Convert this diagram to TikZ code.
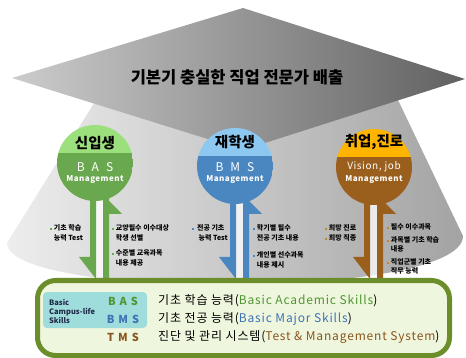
\documentclass[tikz,border=0pt]{standalone}
\usepackage{fontspec}
\setmainfont{Noto Sans CJK KR}
\definecolor{glt}{HTML}{9CE07E}
\definecolor{gdk}{HTML}{6AA84F}
\definecolor{blt}{HTML}{8CC8F0}
\definecolor{bdk}{HTML}{4A86C0}
\definecolor{olt}{HTML}{FFB400}
\definecolor{odk}{HTML}{9A5F1C}
\definecolor{obul}{HTML}{C8841E}
\definecolor{boxline}{HTML}{6B8E2A}
\definecolor{boxfill}{HTML}{EFF6DE}
\definecolor{cyanbox}{HTML}{9FDCDC}
\definecolor{navy}{HTML}{1F2A48}
\definecolor{bascol}{HTML}{4E9632}
\definecolor{bmscol}{HTML}{3D72B4}
\definecolor{tmscol}{HTML}{8A5520}
\newcommand{\sq}[1]{\textcolor{#1}{\rule{2.2pt}{2.2pt}}\hspace{1.5pt}}
\newcommand{\ind}{\hspace{3.7pt}}
\tikzset{
    disc/.style 2 args={circle,minimum size=76pt,inner sep=0pt,path picture={
        \fill[#1] (path picture bounding box.north west) rectangle ([yshift=10pt]path picture bounding box.east);
        \fill[#2] ([yshift=10pt]path picture bounding box.west) rectangle (path picture bounding box.south east);}},
    dname/.style={font=\fontsize{14.5}{14.5}\selectfont\bfseries},
    dcode/.style={text=white,font=\fontsize{12}{12}\selectfont},
    dmgmt/.style={text=white,font=\fontsize{8}{8}\selectfont\bfseries\addfontfeature{LetterSpace=6}},
    note/.style={font=\fontsize{7}{10}\selectfont\bfseries,align=left,inner sep=0pt,anchor=north west},
    skill/.style={font=\fontsize{11}{11}\selectfont\bfseries},
    desc/.style={font=\fontsize{12}{12}\selectfont\addfontfeature{LetterSpace=7},anchor=west,inner sep=0pt},
}
\begin{document}
\begin{tikzpicture}[x=1pt,y=-1pt]
    \useasboundingbox (0,0) rectangle (466,358);
    \shade[left color=black!7,right color=black!36] (96,100) -- (7,243) .. controls (7,300) and (463,300) .. (463,236) -- (398,100) -- cycle;
    \shade[left color=black!20,right color=black!62] (243,8) -- (465,79) -- (243,150) -- (12,78) -- cycle;
    \node[font=\fontsize{16.5}{16.5}\selectfont\bfseries] (ttl) at (237,77) {기본기 충실한 직업 전문가 배출};
    \foreach \x/\c in {90/gdk,230/bdk,364/odk}{
        \fill[white,opacity=.75] (\x+6,195) rectangle (\x+13,282);
        \fill[\c] (\x,190) -- (\x,257) -- (\x-11,257) -- (\x+6,279) -- (\x+6,190) -- cycle;
        \fill[\c] (\x+13,282) -- (\x+13,190) -- (\x+19,190) -- (\x+19,201) -- (\x+32,214) -- (\x+19,214) -- (\x+19,282) -- cycle;
    }
    \node[disc={glt}{gdk}] (fresh) at (95,163) {};
    \node[disc={blt}{bdk}] (enrol) at (235,166) {};
    \node[disc={olt}{odk}] (career) at (374,167) {};
    \node[dname] (fresh-n) at (95,143) {신입생};
    \node[dcode] (fresh-c) at (95,167) {B\hspace{7pt}A\hspace{7pt}S};
    \node[dmgmt] (fresh-m) at (95,179) {Management};
    \node[dname] (enrol-n) at (235,142) {재학생};
    \node[dcode] (enrol-c) at (235,167) {B\hspace{7pt}M\hspace{7pt}S};
    \node[dmgmt] (enrol-m) at (235,179) {Management};
    \node[dname] (career-n) at (374,142) {취업,진로};
    \node[dcode,font=\fontsize{10}{10}\selectfont\addfontfeature{LetterSpace=6}] (career-c) at (374,167) {Vision, job};
    \node[dmgmt] (career-m) at (374,179) {Management};
    \node[note] (g1) at (50,224) {\sq{gdk}기초 학습\\\ind 능력 Test};
    \node[note] (g2) at (112,224) {\sq{gdk}교양필수 이수대상\\\ind 학생 선별};
    \node[note] (g3) at (112,249) {\sq{gdk}수준별 교육과목\\\ind 내용 제공};
    \node[note] (b1) at (192,224) {\sq{bdk}\,전공 기초\\\ind\, 능력 Test};
    \node[note] (b2) at (253,224) {\sq{bdk}학기별 필수\\\ind 전공 기초 내용};
    \node[note] (b3) at (253,251) {\sq{bdk}개인별 선수과목\\\ind 내용 제시};
    \node[note] (o1) at (325,224) {\sq{obul}희망 진로\\\sq{obul}희망 직종};
    \node[note] (o2) at (387,223) {\sq{obul}필수 이수과목};
    \node[note,font=\fontsize{7}{9}\selectfont\bfseries] (o3) at (387,236) {\sq{obul}과목별 기초 학습\\\ind 내용};
    \node[note,font=\fontsize{7}{9}\selectfont\bfseries] (o4) at (387,258) {\sq{obul}직업군별 기초\\\ind 직무 능력};
    \node[draw=boxline,line width=5pt,fill=boxfill,rounded corners=18pt,minimum width=412pt,minimum height=75pt,inner sep=0pt] (skills) at (243.5,318) {};
    \node[fill=cyanbox,rounded corners=4pt,minimum width=104pt,minimum height=36pt,inner sep=0pt] (bcs) at (95,310) {};
    \node[font=\fontsize{7.5}{9}\selectfont\bfseries,text=navy,align=left,anchor=west,inner sep=0pt] (bcs-t) at (49,311) {Basic\\Campus-life\\Skills};
    \node[skill,text=bascol] (bas) at (123,301) {B\hspace{4pt}A\hspace{4pt}S};
    \node[skill,text=bmscol] (bms) at (123,319) {B\hspace{4pt}M\hspace{4pt}S};
    \node[skill,text=tmscol] (tms) at (123,337) {T\hspace{4pt}M\hspace{4pt}S};
    \node[desc] (bas-d) at (158,301) {기초 학습 능력(\textcolor{bascol}{Basic Academic Skills})};
    \node[desc] (bms-d) at (158,319) {기초 전공 능력(\textcolor{bmscol}{Basic Major Skills})};
    \node[desc] (tms-d) at (158,337) {진단 및 관리 시스템(\textcolor{tmscol}{Test \& Management System})};
\end{tikzpicture}
\end{document}
